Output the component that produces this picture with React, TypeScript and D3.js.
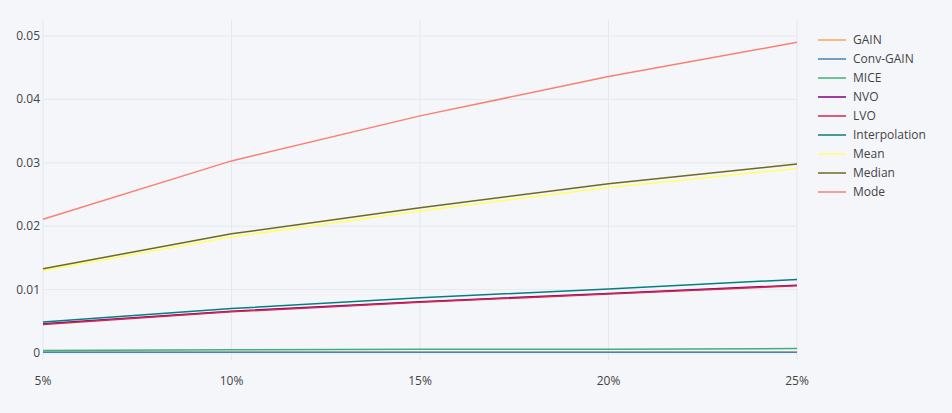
import * as d3 from 'd3';

const W = 952;
const H = 413;

const xLabels = ['5%', '10%', '15%', '20%', '25%'];
const seriesNames = ['GAIN', 'Conv-GAIN', 'MICE', 'NVO', 'LVO', 'Interpolation', 'Mean', 'Median', 'Mode'];
const seriesColors = ['#f4a460', '#4682b4', '#3cb371', '#800080', '#d02a4a', '#008080', '#ffff66', '#6b6b23', '#fa8072'];

const gain = [0.0001, 0.0001, 0.0001, 0.0001, 0.0001];
const convGain = [0.0001, 0.0001, 0.0001, 0.0001, 0.0001];
const mice = [0.0004, 0.0005, 0.0006, 0.0006, 0.0007];
const nvo = [0.0046, 0.0066, 0.0081, 0.0094, 0.0107];
const lvo = [0.0045, 0.0065, 0.0080, 0.0093, 0.0106];
const interpolation = [0.0049, 0.0070, 0.0087, 0.0101, 0.0116];
const mean = [0.0130, 0.0183, 0.0224, 0.0261, 0.0291];
const median = [0.0133, 0.0188, 0.0229, 0.0267, 0.0298];
const mode = [0.0211, 0.0303, 0.0374, 0.0436, 0.0490];
const yTicks = [0, 0.01, 0.02, 0.03, 0.04, 0.05];

const seriesValues = [gain, convGain, mice, nvo, lvo, interpolation, mean, median, mode];

export default function App() {
  const left = 43;
  const right = 797;
  const top = 20;
  const bottom = 360;
  const x = d3.scalePoint<string>().domain(xLabels).range([left, right]);
  const y = d3.scaleLinear().domain([0, 0.05]).range([353, 36]);
  const line = d3
    .line<number>()
    .x((_, i) => x(xLabels[i]) as number)
    .y((d) => y(d));

  return (
    <div style={{ position: 'fixed', left: 0, top: 0 }}>
      <svg width={W} height={H} style={{ display: 'block', fontFamily: '"Open Sans", sans-serif' }}>
        <rect width={W} height={H} fill="#f5f6fa" />
        {xLabels.map((l) => (
          <g key={l}>
            <line x1={x(l)} x2={x(l)} y1={top} y2={bottom} stroke="#e6e8ee" />
            <text x={x(l)} y={385} textAnchor="middle" fontSize={12} fill="#444">
              {l}
            </text>
          </g>
        ))}
        {yTicks.map((t) => (
          <g key={t}>
            <line x1={left} x2={right} y1={y(t)} y2={y(t)} stroke="#e6e8ee" />
            <text x={left - 3} y={y(t) + 4} textAnchor="end" fontSize={12} fill="#444">
              {t === 0 ? '0' : d3.format('.2f')(t)}
            </text>
          </g>
        ))}
        {seriesValues.map((vals, i) => (
          <path key={seriesNames[i]} d={line(vals) || ''} fill="none" stroke={seriesColors[i]} strokeWidth={1.5} />
        ))}
        {seriesNames.map((n, i) => (
          <g key={n} transform={`translate(818,${40 + i * 19})`}>
            <line x1={0} x2={28} y1={0} y2={0} stroke={seriesColors[i]} strokeWidth={1.5} />
            <text x={35} y={4} fontSize={12} fill="#444">
              {n}
            </text>
          </g>
        ))}
      </svg>
    </div>
  );
}
